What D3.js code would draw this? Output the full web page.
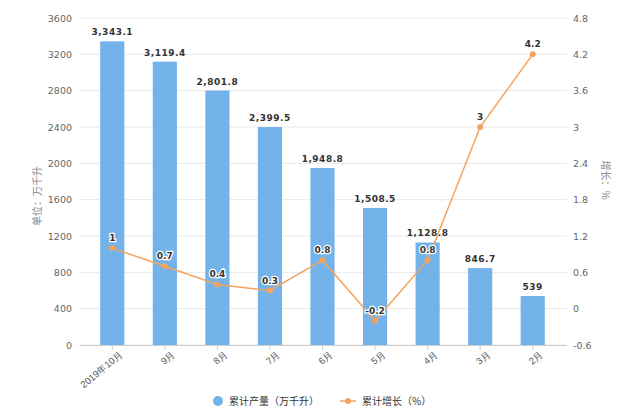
<!DOCTYPE html>
<html><head><meta charset="utf-8">
<script src="https://cdn.jsdelivr.net/npm/d3@7"></script>
<style>
body{margin:0;background:#fff;font-family:"Noto Sans CJK SC","Noto Sans",sans-serif;}
svg{display:block;}
</style></head><body>
<svg id="c" width="640" height="414"></svg>
<script>
const categories = ["2019年10月","9月","8月","7月","6月","5月","4月","3月","2月"];
const production = [3343.1, 3119.4, 2801.8, 2399.5, 1948.8, 1508.5, 1128.8, 846.7, 539];
const growth = [1, 0.7, 0.4, 0.3, 0.8, -0.2, 0.8, 3, 4.2];
const leftTicks = [0,400,800,1200,1600,2000,2400,2800,3200,3600];
const rightTicks = [-0.6,0,0.6,1.2,1.8,2.4,3,3.6,4.2,4.8];
const seriesNames = ["累计产量（万千升）","累计增长（%）"];
const leftTitle = "单位：万千升";
const rightTitle = "增长：%";

const svg = d3.select("#c");
const m = {l:86, r:559, t:18, b:345};
const x = d3.scaleBand().domain(categories).range([m.l, m.r]).paddingInner(0.54).paddingOuter(0.27);
const yL = d3.scaleLinear().domain([0,3600]).range([m.b, m.t]);
const yR = d3.scaleLinear().domain([-0.6,4.8]).range([m.b, m.t]);
const blue = "#74b3ea", orange = "#f4a35e";

// grid
svg.append("g").selectAll("line").data(leftTicks).join("line")
  .attr("x1", m.l-6).attr("x2", m.r+8)
  .attr("y1", d=>yL(d)).attr("y2", d=>yL(d))
  .attr("stroke", "#e8e8e8").attr("stroke-width",1);

// left axis
const gl = svg.append("g").attr("transform",`translate(${m.l-6},0)`)
  .call(d3.axisLeft(yL).tickValues(leftTicks).tickSize(0).tickPadding(8).tickFormat(d3.format("d")));
gl.select(".domain").remove();
gl.selectAll("text").attr("fill","#666").style("font-size","9.5px").style("font-family","'DejaVu Sans',sans-serif");

// right axis
const gr = svg.append("g").attr("transform",`translate(${m.r+8},0)`)
  .call(d3.axisRight(yR).tickValues(rightTicks).tickSize(0).tickPadding(6).tickFormat(d=>String(d)));
gr.select(".domain").remove();
gr.selectAll("text").attr("fill","#666").style("font-size","9.5px").style("font-family","'DejaVu Sans',sans-serif");

// titles
svg.append("text").attr("transform","translate(41,196) rotate(-90)").attr("text-anchor","middle")
  .attr("fill","#888").style("font-size","10px").text(leftTitle);
svg.append("text").attr("transform","translate(602,180) rotate(90)").attr("text-anchor","middle")
  .attr("fill","#888").style("font-size","10px").text(rightTitle);

// bars
svg.append("g").selectAll("rect").data(production).join("rect")
  .attr("x",(d,i)=>x(categories[i])).attr("width",x.bandwidth())
  .attr("y",d=>yL(d)).attr("height",d=>m.b-yL(d)).attr("fill",blue);

// bottom axis
const gx = svg.append("g").attr("transform",`translate(0,${m.b})`)
  .call(d3.axisBottom(x).tickSize(5).tickPadding(4));
gx.select(".domain").attr("stroke","#ccc").attr("d",`M${m.l-6},0.5H${m.r+8}`);
gx.selectAll(".tick line").attr("stroke","#ccc");
gx.selectAll("text").attr("fill","#555").style("font-size","9.5px")
  .attr("text-anchor","end").attr("dx","2").attr("dy","6")
  .attr("transform","rotate(-40)");

// bar labels
svg.append("g").selectAll("text").data(production).join("text")
  .attr("x",(d,i)=>x(categories[i])+x.bandwidth()/2).attr("y",d=>yL(d)-6)
  .attr("text-anchor","middle").attr("fill","#333").style("font-size","9px").style("font-weight","bold")
  .style("letter-spacing","0.5px").style("font-family","'DejaVu Sans',sans-serif")
  .text(d=>d3.format(",")(d));

// line
const cx = (i)=>x(categories[i])+x.bandwidth()/2;
svg.append("path").datum(growth)
  .attr("d", d3.line().x((d,i)=>cx(i)).y(d=>yR(d)))
  .attr("fill","none").attr("stroke",orange).attr("stroke-width",1.5);
svg.append("g").selectAll("circle").data(growth).join("circle")
  .attr("cx",(d,i)=>cx(i)).attr("cy",d=>yR(d)).attr("r",3).attr("fill",orange);
svg.append("g").selectAll("text").data(growth).join("text")
  .attr("x",(d,i)=>cx(i)).attr("y",d=>yR(d)-7)
  .attr("text-anchor","middle").attr("fill","#333").style("font-size","9px").style("font-weight","bold")
  .style("font-family","'DejaVu Sans',sans-serif")
  .attr("stroke","#fff").attr("stroke-width",2.5).attr("paint-order","stroke")
  .text(d=>String(d));

// legend
const lg = svg.append("g");
lg.append("circle").attr("cx",218).attr("cy",401).attr("r",5).attr("fill",blue);
lg.append("text").attr("x",229).attr("y",405).attr("fill","#333").style("font-size","10px").text(seriesNames[0]);
lg.append("line").attr("x1",340).attr("x2",356).attr("y1",401).attr("y2",401).attr("stroke",orange).attr("stroke-width",1.5);
lg.append("circle").attr("cx",348).attr("cy",401).attr("r",3).attr("fill",orange);
lg.append("text").attr("x",362).attr("y",405).attr("fill","#333").style("font-size","10px").text(seriesNames[1]);
</script>
</body></html>
